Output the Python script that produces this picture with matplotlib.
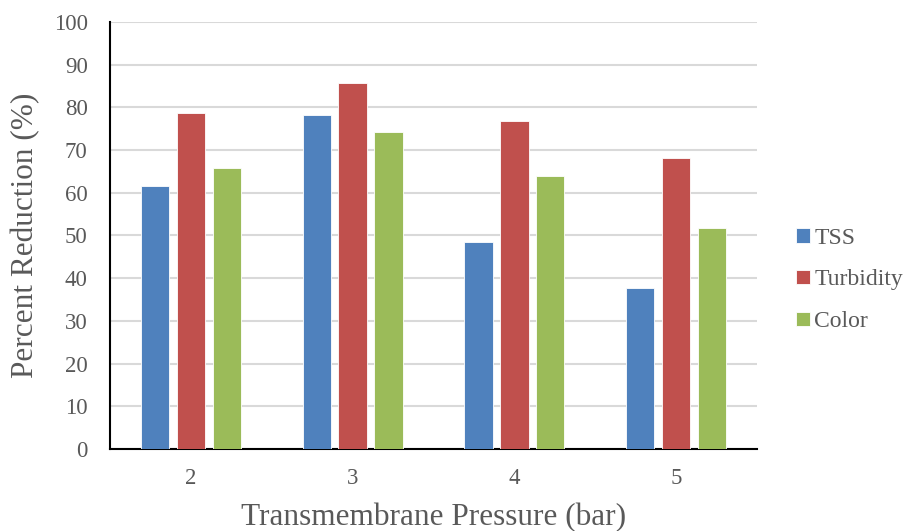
import numpy as np
import matplotlib.pyplot as plt

# data
pressure = ['2', '3', '4', '5']
tss = [61.7, 78.2, 48.5, 37.6]
turbidity = [78.7, 85.8, 76.7, 68.2]
color = [65.7, 74.3, 64.0, 51.8]

series = [('TSS', tss, '#4F81BD'),
          ('Turbidity', turbidity, '#C0504D'),
          ('Color', color, '#9BBB59')]

plt.rcParams['font.family'] = ['Liberation Serif', 'DejaVu Serif']
txt = '#595959'

fig = plt.figure(figsize=(9.05, 5.31), dpi=100)
ax = fig.add_axes([0.1215, 0.1544, 0.715, 0.8042])

x = np.arange(len(pressure))
w = 0.175
step = 0.222
for i, (name, vals, c) in enumerate(series):
    ax.bar(x + (i - 1) * step, vals, w, color=c, label=name,
           edgecolor='white', linewidth=0.6, zorder=3)

ax.set_xlim(-0.5, len(pressure) - 0.5)
ax.set_ylim(0, 100)
ax.set_yticks(range(0, 101, 10))
ax.set_xticks(x)
ax.set_xticklabels(pressure)
ax.grid(axis='y', color='#d9d9d9', linewidth=1.5, zorder=0)
ax.tick_params(length=0, labelsize=16.5, colors=txt)
ax.tick_params(axis='y', pad=16)
ax.tick_params(axis='x', pad=14)
for s in ['top', 'right']:
    ax.spines[s].set_visible(False)
for s in ['left', 'bottom']:
    ax.spines[s].set_color('black')
    ax.spines[s].set_linewidth(1.5)

ax.set_ylabel('Percent Reduction (%)', fontsize=22.5, color=txt, labelpad=10)
ax.set_xlabel('Transmembrane Pressure (bar)', fontsize=22.5, color=txt, labelpad=10)

leg = ax.legend(loc='center left', bbox_to_anchor=(1.046, 0.396), frameon=False,
                fontsize=17, handlelength=0.57, handleheight=0.57,
                handletextpad=0.2, labelspacing=0.88, labelcolor=txt,
                borderaxespad=0)

fig.savefig('out.png', dpi=100)
